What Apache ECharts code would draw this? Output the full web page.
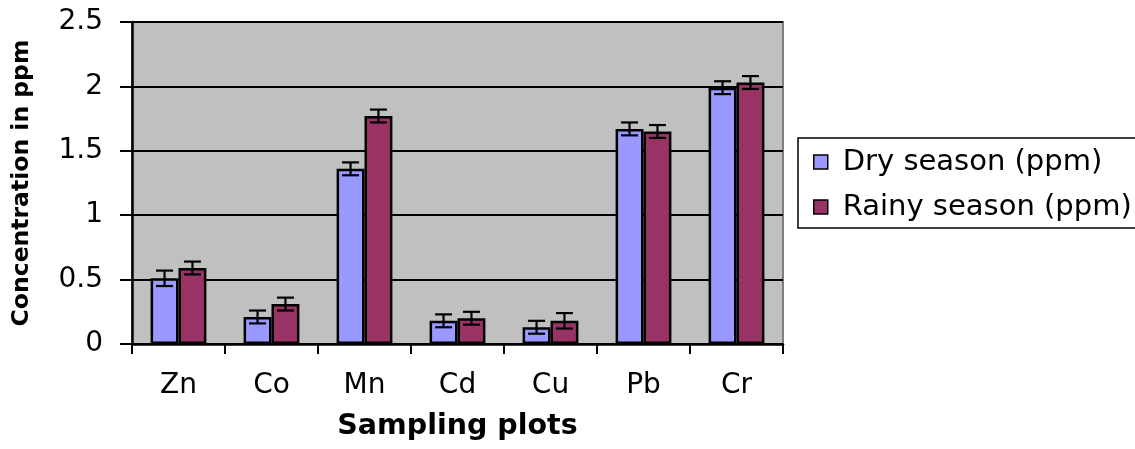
<!DOCTYPE html>
<html>
<head>
<meta charset="utf-8">
<script src="https://cdn.jsdelivr.net/npm/echarts@6/dist/echarts.min.js"></script>
<style>
html,body{margin:0;padding:0;background:#fff;}
#chart{width:1135px;height:449px;}
</style>
</head>
<body>
<div id="chart"></div>
<script>
const categories = ['Zn', 'Co', 'Mn', 'Cd', 'Cu', 'Pb', 'Cr'];
const seriesNames = ['Dry season (ppm)', 'Rainy season (ppm)'];
const dryValues = [0.51, 0.21, 1.36, 0.18, 0.13, 1.67, 1.99];
const rainyValues = [0.59, 0.31, 1.77, 0.20, 0.18, 1.65, 2.03];
const dryErrors = [0.06, 0.05, 0.05, 0.05, 0.05, 0.05, 0.05];
const rainyErrors = [0.05, 0.05, 0.05, 0.05, 0.06, 0.05, 0.05];
const yTickLabels = ['0', '0.5', '1', '1.5', '2', '2.5'];
const xTitle = 'Sampling plots';
const yTitle = 'Concentration in ppm';

const FONT = 'DejaVu Sans';

function errData(vals, errs) {
  return vals.map((v, i) => [i, v, errs[i]]);
}

function errRenderer(sign) {
  return function (params, api) {
    const idx = api.value(0);
    const v = api.value(1);
    const e = api.value(2);
    const band = api.size([1, 0])[0];
    const off = band * 0.15 * sign;
    const hi = api.coord([idx, v + e]);
    const lo = api.coord([idx, v - e]);
    const x = hi[0] + off;
    const cw = 8.5;
    const style = { stroke: '#000', lineWidth: 2.2 };
    return {
      type: 'group',
      children: [
        { type: 'line', shape: { x1: x, y1: hi[1], x2: x, y2: lo[1] }, style: style },
        { type: 'line', shape: { x1: x - cw, y1: hi[1], x2: x + cw, y2: hi[1] }, style: style },
        { type: 'line', shape: { x1: x - cw, y1: lo[1], x2: x + cw, y2: lo[1] }, style: style }
      ]
    };
  };
}

const chart = echarts.init(document.getElementById('chart'), null, { renderer: 'canvas' });
chart.setOption({
  animation: false,
  backgroundColor: '#ffffff',
  textStyle: { fontFamily: FONT, color: '#000' },
  grid: {
    left: 132, right: 352, top: 22, bottom: 105,
    show: true, backgroundColor: '#C0C0C0', borderColor: '#808080', borderWidth: 2
  },
  legend: {
    orient: 'vertical',
    left: 798, top: 138,
    padding: [9, 30, 6, 15],
    itemWidth: 14, itemHeight: 14,
    itemGap: 15,
    data: seriesNames,
    icon: 'rect',
    borderColor: '#000', borderWidth: 1.5,
    itemStyle: { borderColor: '#000', borderWidth: 1.5 },
    textStyle: { fontFamily: FONT, fontSize: 29, color: '#000', lineHeight: 30, padding: [0, 0, 0, 10] }
  },
  xAxis: {
    type: 'category',
    data: categories,
    name: xTitle,
    nameLocation: 'middle',
    nameGap: 68,
    nameTextStyle: { fontFamily: FONT, fontSize: 28.5, fontWeight: 'bold', color: '#000' },
    axisLine: { lineStyle: { color: '#000', width: 2.5 } },
    axisTick: { show: true, length: 10, lineStyle: { color: '#000', width: 2 } },
    axisLabel: { fontFamily: FONT, fontSize: 28, color: '#000', margin: 28 },
    splitLine: { show: false }
  },
  yAxis: {
    type: 'value',
    min: 0, max: 2.5, interval: 0.5,
    name: yTitle,
    nameLocation: 'middle',
    nameGap: 98,
    nameTextStyle: { fontFamily: FONT, fontSize: 23.5, fontWeight: 'bold', color: '#000' },
    axisLine: { show: true, lineStyle: { color: '#000', width: 2.5 } },
    axisTick: { show: true, length: 12, lineStyle: { color: '#000', width: 2 } },
    axisLabel: {
      fontFamily: FONT, fontSize: 28, color: '#000', margin: 29,
      formatter: function (v) { return yTickLabels[Math.round(v / 0.5)]; }
    },
    splitLine: { show: true, lineStyle: { color: '#000', width: 2 } }
  },
  series: [
    {
      name: seriesNames[0], type: 'bar', data: dryValues,
      barWidth: '30%', barGap: '0%',
      itemStyle: { color: '#9999FF', borderColor: '#000', borderWidth: 2.5 }
    },
    {
      name: seriesNames[1], type: 'bar', data: rainyValues,
      barWidth: '30%', barGap: '0%',
      itemStyle: { color: '#993366', borderColor: '#000', borderWidth: 2.5 }
    },
    {
      type: 'custom', name: 'dryErr', renderItem: errRenderer(-1),
      data: errData(dryValues, dryErrors), encode: { x: 0, y: 1 }, z: 10, silent: true
    },
    {
      type: 'custom', name: 'rainyErr', renderItem: errRenderer(1),
      data: errData(rainyValues, rainyErrors), encode: { x: 0, y: 1 }, z: 10, silent: true
    }
  ]
});
</script>
</body>
</html>
